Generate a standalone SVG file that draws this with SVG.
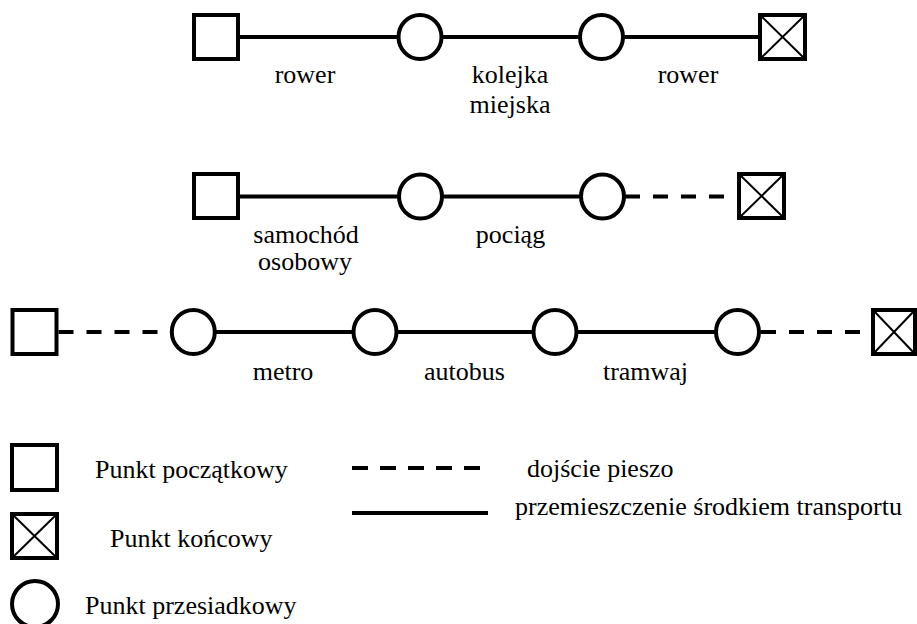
<svg xmlns="http://www.w3.org/2000/svg" width="917" height="624" viewBox="0 0 917 624">
<style>
.sq{fill:#fff;stroke:#000;stroke-width:4}
.ci{fill:#fff;stroke:#000;stroke-width:4}
.x{stroke:#000;stroke-width:2;fill:none}
.ln{stroke:#000;stroke-width:4;fill:none}
.da{stroke:#000;stroke-width:4;fill:none;stroke-dasharray:15 13}
text{font-family:'Liberation Serif','Times New Roman','DejaVu Serif',serif;font-size:26px;fill:#000}
.m{text-anchor:middle}
</style>
<rect width="917" height="624" fill="#fff"/>
<g id="connectors">
<line class="ln" x1="240" y1="37" x2="398" y2="37"/>
<line class="ln" x1="442" y1="37" x2="580" y2="37"/>
<line class="ln" x1="623" y1="37" x2="760" y2="37"/>
<line class="ln" x1="240" y1="196.5" x2="399" y2="196.5"/>
<line class="ln" x1="442" y1="196.5" x2="581" y2="196.5"/>
<line class="da" x1="625" y1="196.5" x2="737" y2="196.5"/>
<line class="da" x1="58.5" y1="332" x2="171" y2="332"/>
<line class="ln" x1="215" y1="332" x2="354" y2="332"/>
<line class="ln" x1="396" y1="332" x2="534" y2="332"/>
<line class="ln" x1="576" y1="332" x2="716" y2="332"/>
<line class="da" x1="761" y1="332" x2="873" y2="332"/>
</g>
<g id="r1-start"><rect class="sq" x="194" y="15" width="44" height="44"/></g>
<g id="r1-t1"><ellipse class="ci" cx="420" cy="37" rx="21.5" ry="22"/></g>
<g id="r1-t2"><ellipse class="ci" cx="601.5" cy="37" rx="21.5" ry="22"/></g>
<g id="r1-end"><rect class="sq" x="760" y="15" width="45" height="44"/><path class="x" d="M760 15L805 59M805 15L760 59"/></g>
<g id="r2-start"><rect class="sq" x="194" y="174" width="44" height="44"/></g>
<g id="r2-t1"><ellipse class="ci" cx="420.5" cy="196.5" rx="21.5" ry="22"/></g>
<g id="r2-t2"><ellipse class="ci" cx="602.5" cy="196.5" rx="21.5" ry="22"/></g>
<g id="r2-end"><rect class="sq" x="739" y="174" width="45" height="44"/><path class="x" d="M739 174L784 218M784 174L739 218"/></g>
<g id="r3-start"><rect class="sq" x="12.5" y="310" width="44" height="44"/></g>
<g id="r3-t1"><ellipse class="ci" cx="193.3" cy="332" rx="21.5" ry="22"/></g>
<g id="r3-t2"><ellipse class="ci" cx="375" cy="332" rx="21.5" ry="22"/></g>
<g id="r3-t3"><ellipse class="ci" cx="555" cy="332" rx="21.5" ry="22"/></g>
<g id="r3-t4"><ellipse class="ci" cx="737.5" cy="332" rx="21.5" ry="22"/></g>
<g id="r3-end"><rect class="sq" x="873" y="310" width="42" height="44"/><path class="x" d="M873 310L915 354M915 310L873 354"/></g>
<g id="labels" font-family="Liberation Serif, serif">
<text class="m" x="305" y="83">rower</text>
<text class="m" x="510" y="83">kolejka</text>
<text class="m" x="510" y="113">miejska</text>
<text class="m" x="688" y="83">rower</text>
<text class="m" x="306" y="243">samochód</text>
<text class="m" x="305" y="270">osobowy</text>
<text class="m" x="510.5" y="243">pociąg</text>
<text class="m" x="283" y="380">metro</text>
<text class="m" x="464.5" y="380">autobus</text>
<text class="m" x="645.5" y="380">tramwaj</text>
</g>
<g id="legend">
<g id="leg-start"><rect class="sq" x="12" y="445" width="45" height="45"/><text x="95" y="478">Punkt początkowy</text></g>
<g id="leg-end"><rect class="sq" x="12" y="514" width="45" height="44"/><path class="x" d="M12 514L57 558M57 514L12 558"/><text x="110" y="547">Punkt końcowy</text></g>
<g id="leg-transfer"><circle class="ci" cx="35" cy="604" r="23"/><text x="85" y="614">Punkt przesiadkowy</text></g>
<g id="leg-walk"><line class="ln" x1="352" y1="468" x2="480" y2="468" style="stroke-dasharray:16 12"/><text x="527" y="477">dojście pieszo</text></g>
<g id="leg-ride"><line class="ln" x1="352" y1="513" x2="488" y2="513"/><text x="515" y="515">przemieszczenie środkiem transportu</text></g>
</g>
</svg>
